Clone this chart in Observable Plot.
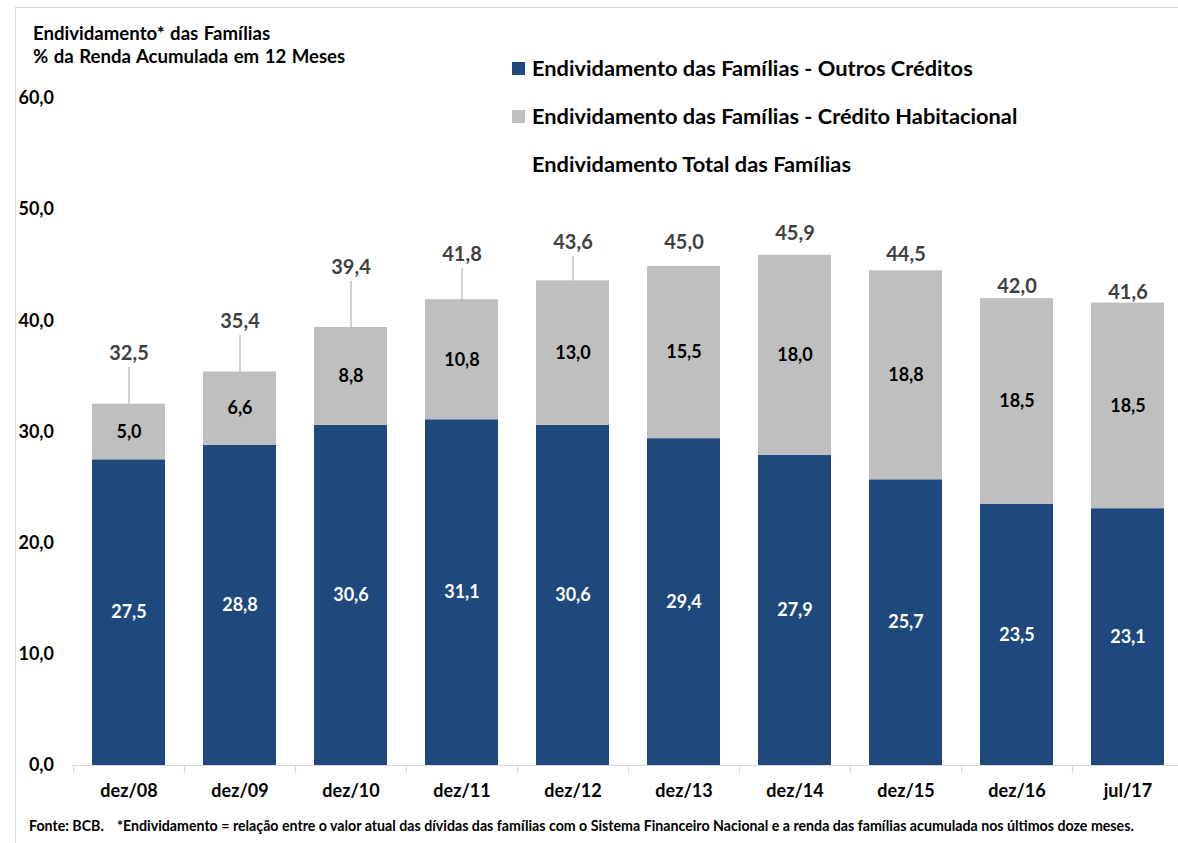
<!DOCTYPE html>
<html>
<head>
<meta charset="utf-8">
<script src="https://cdn.jsdelivr.net/npm/d3@7"></script>
<script src="https://cdn.jsdelivr.net/npm/@observablehq/plot@0.6"></script>
<style>
  html, body { margin: 0; padding: 0; background: #fff; }
  #wrap { position: relative; width: 1178px; height: 843px; overflow: hidden; font-family: Lato, "Open Sans", sans-serif; font-weight: 700; }
  #frame { position: absolute; left: 15px; top: 7px; right: -5px; bottom: -5px; border-left: 1px solid #d9d9d9; border-top: 1px solid #d9d9d9; pointer-events: none; }
  #title { position: absolute; left: 33px; top: 22px; font-size: 18.6px; line-height: 23px; color: #000; word-spacing: 1px; }
  #legend { position: absolute; left: 512px; top: 54px; font-size: 21.8px; color: #000; }
  .lg { height: 48px; display: flex; align-items: flex-start; line-height: 28px; }
  .sw { width: 13px; height: 13px; margin: 8px 7px 0 0; flex: none; }
  #footer { position: absolute; left: 29px; top: 817px; font-size: 14.2px; color: #000; white-space: nowrap; }
  #footer span.note { position: absolute; left: 88px; top: 0; }
  #chart { position: absolute; left: 0; top: 0; }
</style>
</head>
<body>
<div id="wrap">
  <div id="chart"></div>
  <div id="frame"></div>
  <div id="title"></div>
  <div id="legend"></div>
  <div id="footer"></div>
</div>
<script>
// ---- data ----
const categories = ["dez/08", "dez/09", "dez/10", "dez/11", "dez/12", "dez/13", "dez/14", "dez/15", "dez/16", "jul/17"];
const outrosCreditos = [27.5, 28.8, 30.6, 31.1, 30.6, 29.4, 27.9, 25.7, 23.5, 23.1];
const creditoHabitacional = [5.0, 6.6, 8.8, 10.8, 13.0, 15.5, 18.0, 18.8, 18.5, 18.5];
const totalFamilias = [32.5, 35.4, 39.4, 41.8, 43.6, 45.0, 45.9, 44.5, 42.0, 41.6];
const seriesNames = ["Endividamento das Famílias - Outros Créditos", "Endividamento das Famílias - Crédito Habitacional", "Endividamento Total das Famílias"];
const yTicks = [0, 10, 20, 30, 40, 50, 60];
// label placement (offset above the bar top, in y units), as placed in the original chart
const totalLabelLift = [4.56, 4.54, 5.4, 4.14, 3.42, 2.07, 1.95, 1.47, 1.1, 0.97];

const titleLines = ["Endividamento* das Famílias", "% da Renda Acumulada em 12 Meses"];
const fonte = "Fonte: BCB.";
const nota = "*Endividamento = relação entre o valor atual das dívidas das famílias com o Sistema Financeiro Nacional e a renda das famílias acumulada nos últimos doze meses.";

// ---- styles ----
const BLUE = "#1F497D", GRAY = "#BFBFBF", LABEL = "#404040", AXIS = "#D9D9D9";
const fmt = v => v.toFixed(1).replace(".", ",");

// ---- derived tables ----
const stacked = [];
categories.forEach((c, i) => {
  stacked.push({cat: c, series: seriesNames[0], value: outrosCreditos[i], mid: outrosCreditos[i] / 2});
  stacked.push({cat: c, series: seriesNames[1], value: creditoHabitacional[i], mid: outrosCreditos[i] + creditoHabitacional[i] / 2});
});
const totals = categories.map((c, i) => ({cat: c, total: totalFamilias[i], labelY: totalFamilias[i] + totalLabelLift[i]}));

const W = 1178, H = 843;
const xCfg = {domain: categories, paddingInner: 0.34, paddingOuter: 0.17};
const margins = {marginLeft: 72.5, marginRight: -5.5, marginTop: 98, marginBottom: 78};

const probe = Plot.plot({width: W, height: H, ...margins, x: xCfg, y: {domain: [0, 60]}, marks: []});
const halfStep = probe.scale("x").step / 2;

const chart = Plot.plot({
  width: W, height: H, ...margins,
  style: {fontFamily: "Lato, 'Open Sans', sans-serif", fontWeight: "700", background: "transparent", color: "#000"},
  x: {...xCfg, axis: null},
  y: {domain: [0, 60], axis: null},
  color: {domain: seriesNames.slice(0, 2), range: [BLUE, GRAY]},
  marks: [
    Plot.barY(stacked, {x: "cat", y: "value", fill: "series", order: seriesNames.slice(0, 2)}),
    Plot.ruleY([0], {stroke: AXIS, strokeWidth: 1.2}),
    Plot.axisX({ticks: categories, tickSize: 8, tickFormat: () => "", dx: -halfStep, stroke: AXIS, strokeWidth: 1.2, label: null}),
    Plot.axisX({ticks: categories, tickSize: 0, tickPadding: 19, fontSize: 18, fill: "#000", label: null}),
    Plot.axisY({ticks: yTicks, tickSize: 0, tickPadding: 19, tickFormat: fmt, fontSize: 18, fill: "#000", label: null}),
    Plot.text(stacked.filter(d => d.series === seriesNames[0]), {x: "cat", y: "mid", text: d => fmt(d.value), fill: "#fff", fontSize: 18}),
    Plot.text(stacked.filter(d => d.series === seriesNames[1]), {x: "cat", y: "mid", text: d => fmt(d.value), fill: "#000", fontSize: 18}),
    Plot.ruleX(totals.filter(d => d.labelY - d.total > 3), {x: "cat", y1: "labelY", y2: "total", insetTop: 14, stroke: "#A6A6A6", strokeWidth: 1}),
    Plot.text(totals, {x: "cat", y: "labelY", text: d => fmt(d.total), fill: LABEL, fontSize: 20})
  ]
});
document.getElementById("chart").appendChild(chart);

// title
document.getElementById("title").innerHTML = titleLines.map(t => `<div>${t}</div>`).join("");
// legend
const swatches = [BLUE, GRAY, null];
document.getElementById("legend").innerHTML = seriesNames.map((s, i) =>
  `<div class="lg"><div class="sw" style="background:${swatches[i] || "transparent"}"></div><span>${s}</span></div>`).join("");
// footer
document.getElementById("footer").innerHTML = `<span>${fonte}</span><span class="note">${nota}</span>`;
</script>
</body>
</html>
